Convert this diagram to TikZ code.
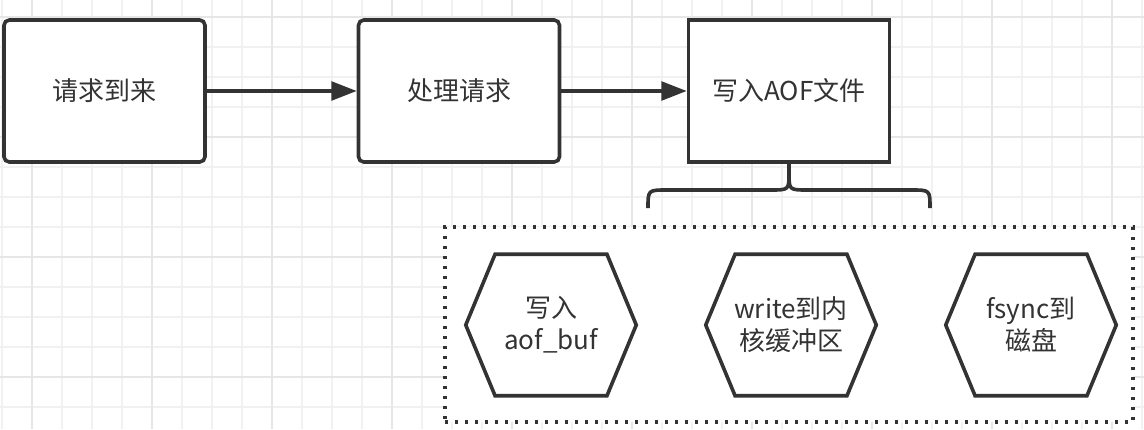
\documentclass[tikz,border=0pt]{standalone}
\usepackage{fontspec}
\setmainfont{Noto Sans CJK SC}
\usetikzlibrary{arrows.meta,calc}
\definecolor{ink}{HTML}{333333}
\definecolor{gridminor}{HTML}{F1F1F1}
\definecolor{gridmajor}{HTML}{E6E6E6}
\tikzset{
  lbl/.style={text=ink,font=\fontsize{19.5pt}{24pt}\selectfont,align=center,inner sep=0pt},
  box/.style={lbl,draw=ink,fill=white,line width=2.7pt,minimum width=150.75pt,minimum height=106.5pt},
  hexbox/.style={lbl,minimum width=127.5pt,minimum height=105.75pt},
  hexline/.style={draw=ink,fill=white,line width=2.7pt,line join=miter},
  arr/.style={draw=ink,line width=2.6pt,-{Triangle[length=19pt,width=14pt]}},
  group/.style={draw=ink,fill=white,line width=2.4pt,dash pattern=on 2.4pt off 5.1pt,minimum width=516pt,minimum height=146.25pt,inner sep=0pt},
  bracel/.style={draw=ink,line width=2.7pt}
}
\newcommand\hexdraw[1]{\path[hexline] (#1.west) -- ([xshift=22pt]#1.north west) -- ([xshift=-22pt]#1.north east) -- (#1.east) -- ([xshift=-22pt]#1.south east) -- ([xshift=22pt]#1.south west) -- cycle;}
\begin{document}
\begin{tikzpicture}[x=0.75pt,y=-0.75pt]
\fill[white] (0,0) rectangle (1144,429);
\useasboundingbox (0,0) rectangle (1144,429);
% grid
\foreach \x in {2,32,...,1142} \draw[gridminor,line width=1pt] (\x,0) -- (\x,429);
\foreach \y in {17,47,...,427} \draw[gridminor,line width=1pt] (0,\y) -- (1144,\y);
\foreach \x in {32,152,...,1142} \draw[gridmajor,line width=1pt] (\x,0) -- (\x,429);
\foreach \y in {17,137,...,427} \draw[gridmajor,line width=1pt] (0,\y) -- (1144,\y);
% top row
\node[box,rounded corners=4pt] (a) at (104.5,91) {请求到来};
\node[box,rounded corners=4pt] (b) at (459,91) {处理请求};
\node[box] (c) at (789,91) {写入AOF文件};
\draw[arr] (a) -- (b);
\draw[arr] (b) -- (c);
% group
\node[group] (g) at (789,324.5) {};
% brace
\coordinate (bl) at (648,208);
\coordinate (br) at (930,208);
\coordinate (bm) at (789,173);
\draw[bracel] (bl) .. controls (648,190) .. (667,190) -- (770,190) .. controls (789,190) .. (bm) -- (c.south);
\draw[bracel] (br) .. controls (930,190) .. (911,190) -- (808,190) .. controls (789,190) .. (bm);
% hexagons
\node[hexbox] (h1) at (551,325) {};
\node[hexbox] (h2) at (791,325) {};
\node[hexbox] (h3) at (1031,325) {};
\hexdraw{h1}
\hexdraw{h2}
\hexdraw{h3}
\node[lbl] at (h1) {写入\\aof\_buf};
\node[lbl] at (h2) {write到内\\核缓冲区};
\node[lbl] at (h3) {fsync到\\磁盘};
\end{tikzpicture}
\end{document}
